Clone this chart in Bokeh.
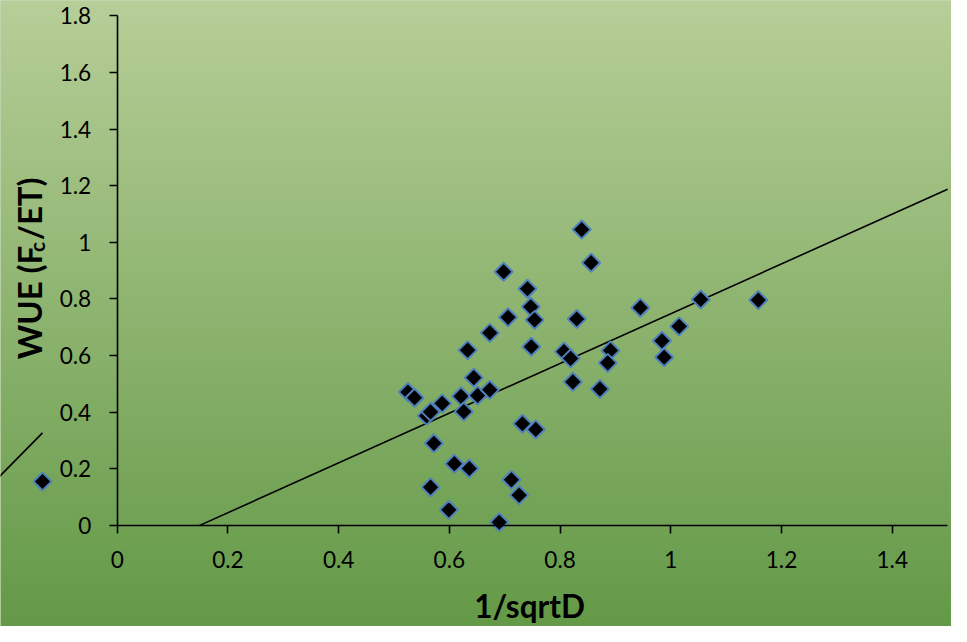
import numpy as np
from bokeh.plotting import figure
from bokeh.models import FixedTicker, Label, Range1d
from bokeh.embed import file_html
from bokeh.resources import INLINE

# ---------------- data ----------------
inv_sqrt_d = [0.525, 0.537, 0.559, 0.566, 0.587, 0.633, 0.673, 0.706, 0.698,
              0.741, 0.747, 0.754, 0.748, 0.644, 0.621, 0.651, 0.673, 0.626,
              0.732, 0.756, 0.572, 0.609, 0.636, 0.566, 0.712, 0.726, 0.599,
              0.690, 0.839, 0.856, 0.830, 0.945, 1.054, 1.015, 0.984, 0.988,
              0.891, 0.886, 0.807, 0.819, 0.823, 0.872, 1.158]
wue = [0.471, 0.451, 0.387, 0.401, 0.431, 0.619, 0.680, 0.735, 0.896,
       0.836, 0.772, 0.726, 0.631, 0.522, 0.456, 0.459, 0.479, 0.402,
       0.359, 0.339, 0.290, 0.218, 0.201, 0.135, 0.161, 0.107, 0.055,
       0.011, 1.045, 0.928, 0.729, 0.769, 0.798, 0.703, 0.652, 0.594,
       0.618, 0.574, 0.614, 0.590, 0.507, 0.482, 0.796]

# point and line fragment left of the axis (from an adjacent, cropped chart)
stray_x = [-0.135]
stray_y = [0.155]
stray_line_x = [-0.215, -0.135]
stray_line_y = [0.168, 0.327]

# linear trend line
trend_slope = 0.879
trend_intercept = -0.131
trend_x = [0.149, 1.5]

x_ticks = [0, 0.2, 0.4, 0.6, 0.8, 1.0, 1.2, 1.4]
x_tick_labels = ["0", "0.2", "0.4", "0.6", "0.8", "1", "1.2", "1.4"]
y_ticks = [0, 0.2, 0.4, 0.6, 0.8, 1.0, 1.2, 1.4, 1.6, 1.8]
y_tick_labels = ["0", "0.2", "0.4", "0.6", "0.8", "1", "1.2", "1.4", "1.6", "1.8"]

x_title = "1/sqrtD"
y_title_parts = ["WUE (F", "c", "/ET)"]

# ---------------- layout ----------------
W, H = 951, 626
REF_W, REF_H = 967, 642
S = W / REF_W                 # scale of the reference picture
X0PX, XSCALE = 118.7, 562.9   # reference pixel of x=0, px per unit
Y0PX, YSCALE = 538.3, 290.3   # reference pixel of y=0, px per unit


def px_x(px):
    return (px - X0PX) / XSCALE


def px_y(py):
    return (Y0PX - py) / YSCALE


def fs(px):
    return f"{px * S:.1f}px"


x_start, x_end = px_x(0), px_x(REF_W)
y_start, y_end = px_y(REF_H), px_y(0)

p = figure(width=W, height=H, x_range=Range1d(x_start, x_end),
           y_range=Range1d(y_start, y_end), output_backend="svg",
           toolbar_location=None, min_border=0)
p.min_border_left = p.min_border_right = p.min_border_top = p.min_border_bottom = 0
p.outline_line_color = None
p.grid.visible = False
p.background_fill_color = "#8cb366"
p.border_fill_color = "#8cb366"

# vertical gradient background
top_rgb = np.array([183, 206, 152], dtype=float)
bot_rgb = np.array([99, 153, 71], dtype=float)
rows = H
img = np.zeros((rows, 2), dtype=np.uint32)
view = img.view(dtype=np.uint8).reshape((rows, 2, 4))
for r in range(rows):
    t = 1.0 - (r + 0.5) / rows
    c = top_rgb + (bot_rgb - top_rgb) * t
    view[r, :, 0] = int(round(c[0]))
    view[r, :, 1] = int(round(c[1]))
    view[r, :, 2] = int(round(c[2]))
    view[r, :, 3] = 255
p.image_rgba(image=[img], x=x_start, y=y_start, dw=x_end - x_start, dh=y_end - y_start)

# axes crossing at the origin
for ax, ticks, labels, bounds in ((p.xaxis, x_ticks, x_tick_labels, (0, 1.5)),
                                  (p.yaxis, y_ticks, y_tick_labels, (0, 1.8))):
    ax.fixed_location = 0
    ax.bounds = bounds
    ax.ticker = FixedTicker(ticks=ticks)
    ax.major_label_overrides = {t: l for t, l in zip(ticks, labels)}
    ax.axis_line_color = "black"
    ax.axis_line_width = 1.6
    ax.major_tick_line_color = "black"
    ax.major_tick_line_width = 1.6
    ax.major_tick_in = 0
    ax.major_tick_out = 8
    ax.minor_tick_line_color = None
    ax.major_label_text_font = "Lato"
    ax.major_label_text_font_size = fs(23)
    ax.major_label_text_color = "black"
p.xaxis.major_label_standoff = 18
p.yaxis.major_label_standoff = 18

# trend line and stray fragment
trend_y = [trend_slope * x + trend_intercept for x in trend_x]
p.line(trend_x, trend_y, line_color="black", line_width=1.6)
p.line(stray_line_x, stray_line_y, line_color="black", line_width=1.6)

# points
p.scatter(inv_sqrt_d, wue, marker="square", angle=np.pi / 4, size=13 * S,
          fill_color="black", line_color="#4f81bd", line_width=2)
p.scatter(stray_x, stray_y, marker="square", angle=np.pi / 4, size=13 * S,
          fill_color="black", line_color="#4f81bd", line_width=2)

# axis titles
p.add_layout(Label(x=px_x(538), y=px_y(621), text=x_title, text_font="Lato",
                   text_font_style="bold", text_font_size=fs(32), text_color="black",
                   text_align="center", text_baseline="middle"))
p.add_layout(Label(x=px_x(29), y=px_y(368), text=y_title_parts[0], text_font="Lato",
                   text_font_style="bold", text_font_size=fs(33.5), text_color="black",
                   angle=np.pi / 2, text_align="left", text_baseline="middle"))
p.add_layout(Label(x=px_x(37), y=px_y(258), text=y_title_parts[1], text_font="Lato",
                   text_font_style="bold", text_font_size=fs(21), text_color="black",
                   angle=np.pi / 2, text_align="left", text_baseline="middle"))
p.add_layout(Label(x=px_x(29), y=px_y(246), text=y_title_parts[2], text_font="Lato",
                   text_font_style="bold", text_font_size=fs(33.5), text_color="black",
                   angle=np.pi / 2, text_align="left", text_baseline="middle"))

open("out.html", "w").write(file_html(p, INLINE))
